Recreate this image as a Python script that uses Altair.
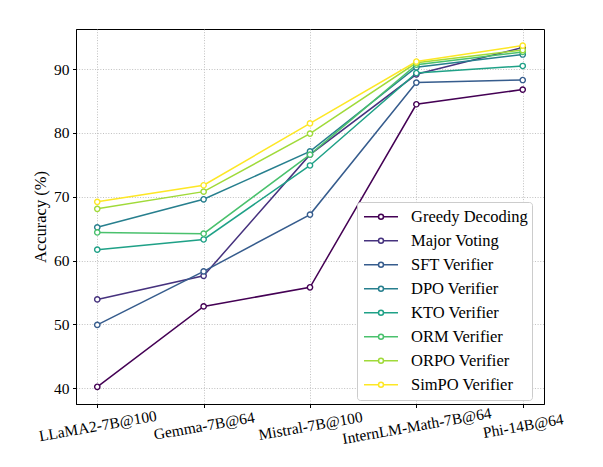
import altair as alt
import pandas as pd

models = ["LLaMA2-7B@100", "Gemma-7B@64", "Mistral-7B@100", "InternLM-Math-7B@64", "Phi-14B@64"]
series = ["Greedy Decoding", "Major Voting", "SFT Verifier", "DPO Verifier",
          "KTO Verifier", "ORM Verifier", "ORPO Verifier", "SimPO Verifier"]
colors = ["#440154", "#46327e", "#365c8d", "#277f8e", "#1fa187", "#4ac16d", "#a0da39", "#fde725"]

greedy = [40.2, 52.8, 55.8, 84.5, 86.8]
major = [53.9, 57.6, 76.6, 89.2, 93.4]
sft = [49.9, 58.3, 67.2, 87.9, 88.3]
dpo = [65.2, 69.6, 77.1, 90.3, 92.3]
kto = [61.7, 63.3, 74.9, 89.4, 90.5]
orm = [64.4, 64.2, 76.6, 90.7, 92.7]
orpo = [68.1, 70.8, 79.9, 91.0, 93.0]
simpo = [69.2, 71.8, 81.5, 91.2, 93.7]

values = [greedy, major, sft, dpo, kto, orm, orpo, simpo]

rows = []
for s, vals in zip(series, values):
    for m, v in zip(models, vals):
        rows.append({"model": m, "series": s, "acc": v})
df = pd.DataFrame(rows)

FONT = "Liberation Serif"

legend_symbol = ("M-2.125,0H-0.31M0.31,0H2.125"
                 "M0.31,0A0.31,0.31,0,1,1,-0.31,0A0.31,0.31,0,1,1,0.31,0Z")

x = alt.X("model:N", sort=models,
          scale=alt.Scale(type="point", padding=0.2),
          axis=alt.Axis(title=None, labelAngle=350, labelAlign="center",
                        labelBaseline="middle", labelPadding=18,
                        labelFontSize=15.5, labelFont=FONT, labelColor="black",
                        labelOverlap=False, labelBound=False, labelFlush=False,
                        tickSize=3.5, tickColor="black", domainColor="black",
                        grid=True, gridColor="#b0b0b0", gridDash=[1, 1.65],
                        gridWidth=0.8))
y = alt.Y("acc:Q",
          scale=alt.Scale(domain=[37.5, 96.3], nice=False, zero=False),
          axis=alt.Axis(title="Accuracy (%)", values=[40, 50, 60, 70, 80, 90],
                        labelFontSize=15.5, labelFont=FONT, labelColor="black",
                        labelPadding=3.5, tickSize=3.5, tickColor="black",
                        domainColor="black", titleFont=FONT, titleFontSize=16.5,
                        titleFontWeight="normal", titleColor="black",
                        titlePadding=5,
                        grid=True, gridColor="#b0b0b0", gridDash=[1, 1.65],
                        gridWidth=0.8))
color = alt.Color("series:N",
                  scale=alt.Scale(domain=series, range=colors),
                  legend=alt.Legend(title=None, orient="none",
                                    legendX=281, legendY=173,
                                    symbolType=legend_symbol, symbolSize=256,
                                    symbolStrokeWidth=1.5, symbolFillColor="white",
                                    symbolOffset=11, clipHeight=21.7,
                                    labelFont=FONT, labelFontSize=16.5,
                                    labelColor="black", labelOffset=21,
                                    rowPadding=2, padding=4,
                                    strokeColor="#cccccc", fillColor="white",
                                    cornerRadius=3))

line = alt.Chart(df).mark_line(strokeWidth=1.5).encode(
    x=x, y=y, color=color, detail="series:N"
)
points = alt.Chart(df).mark_point(filled=True, fill="white", size=28,
                                  strokeWidth=1.4, opacity=1, shape="circle").encode(
    x=x, y=y, stroke=alt.Stroke("series:N", scale=alt.Scale(domain=series, range=colors),
                                legend=None)
)

chart = (line + points).properties(
    width=468, height=375,
    autosize=alt.AutoSizeParams(type="none"),
    padding={"left": 68, "top": 21, "right": 51, "bottom": 55},
).configure_view(stroke="black", strokeWidth=1)

chart.save("out.html", embed_options={"renderer": "svg", "actions": False})
